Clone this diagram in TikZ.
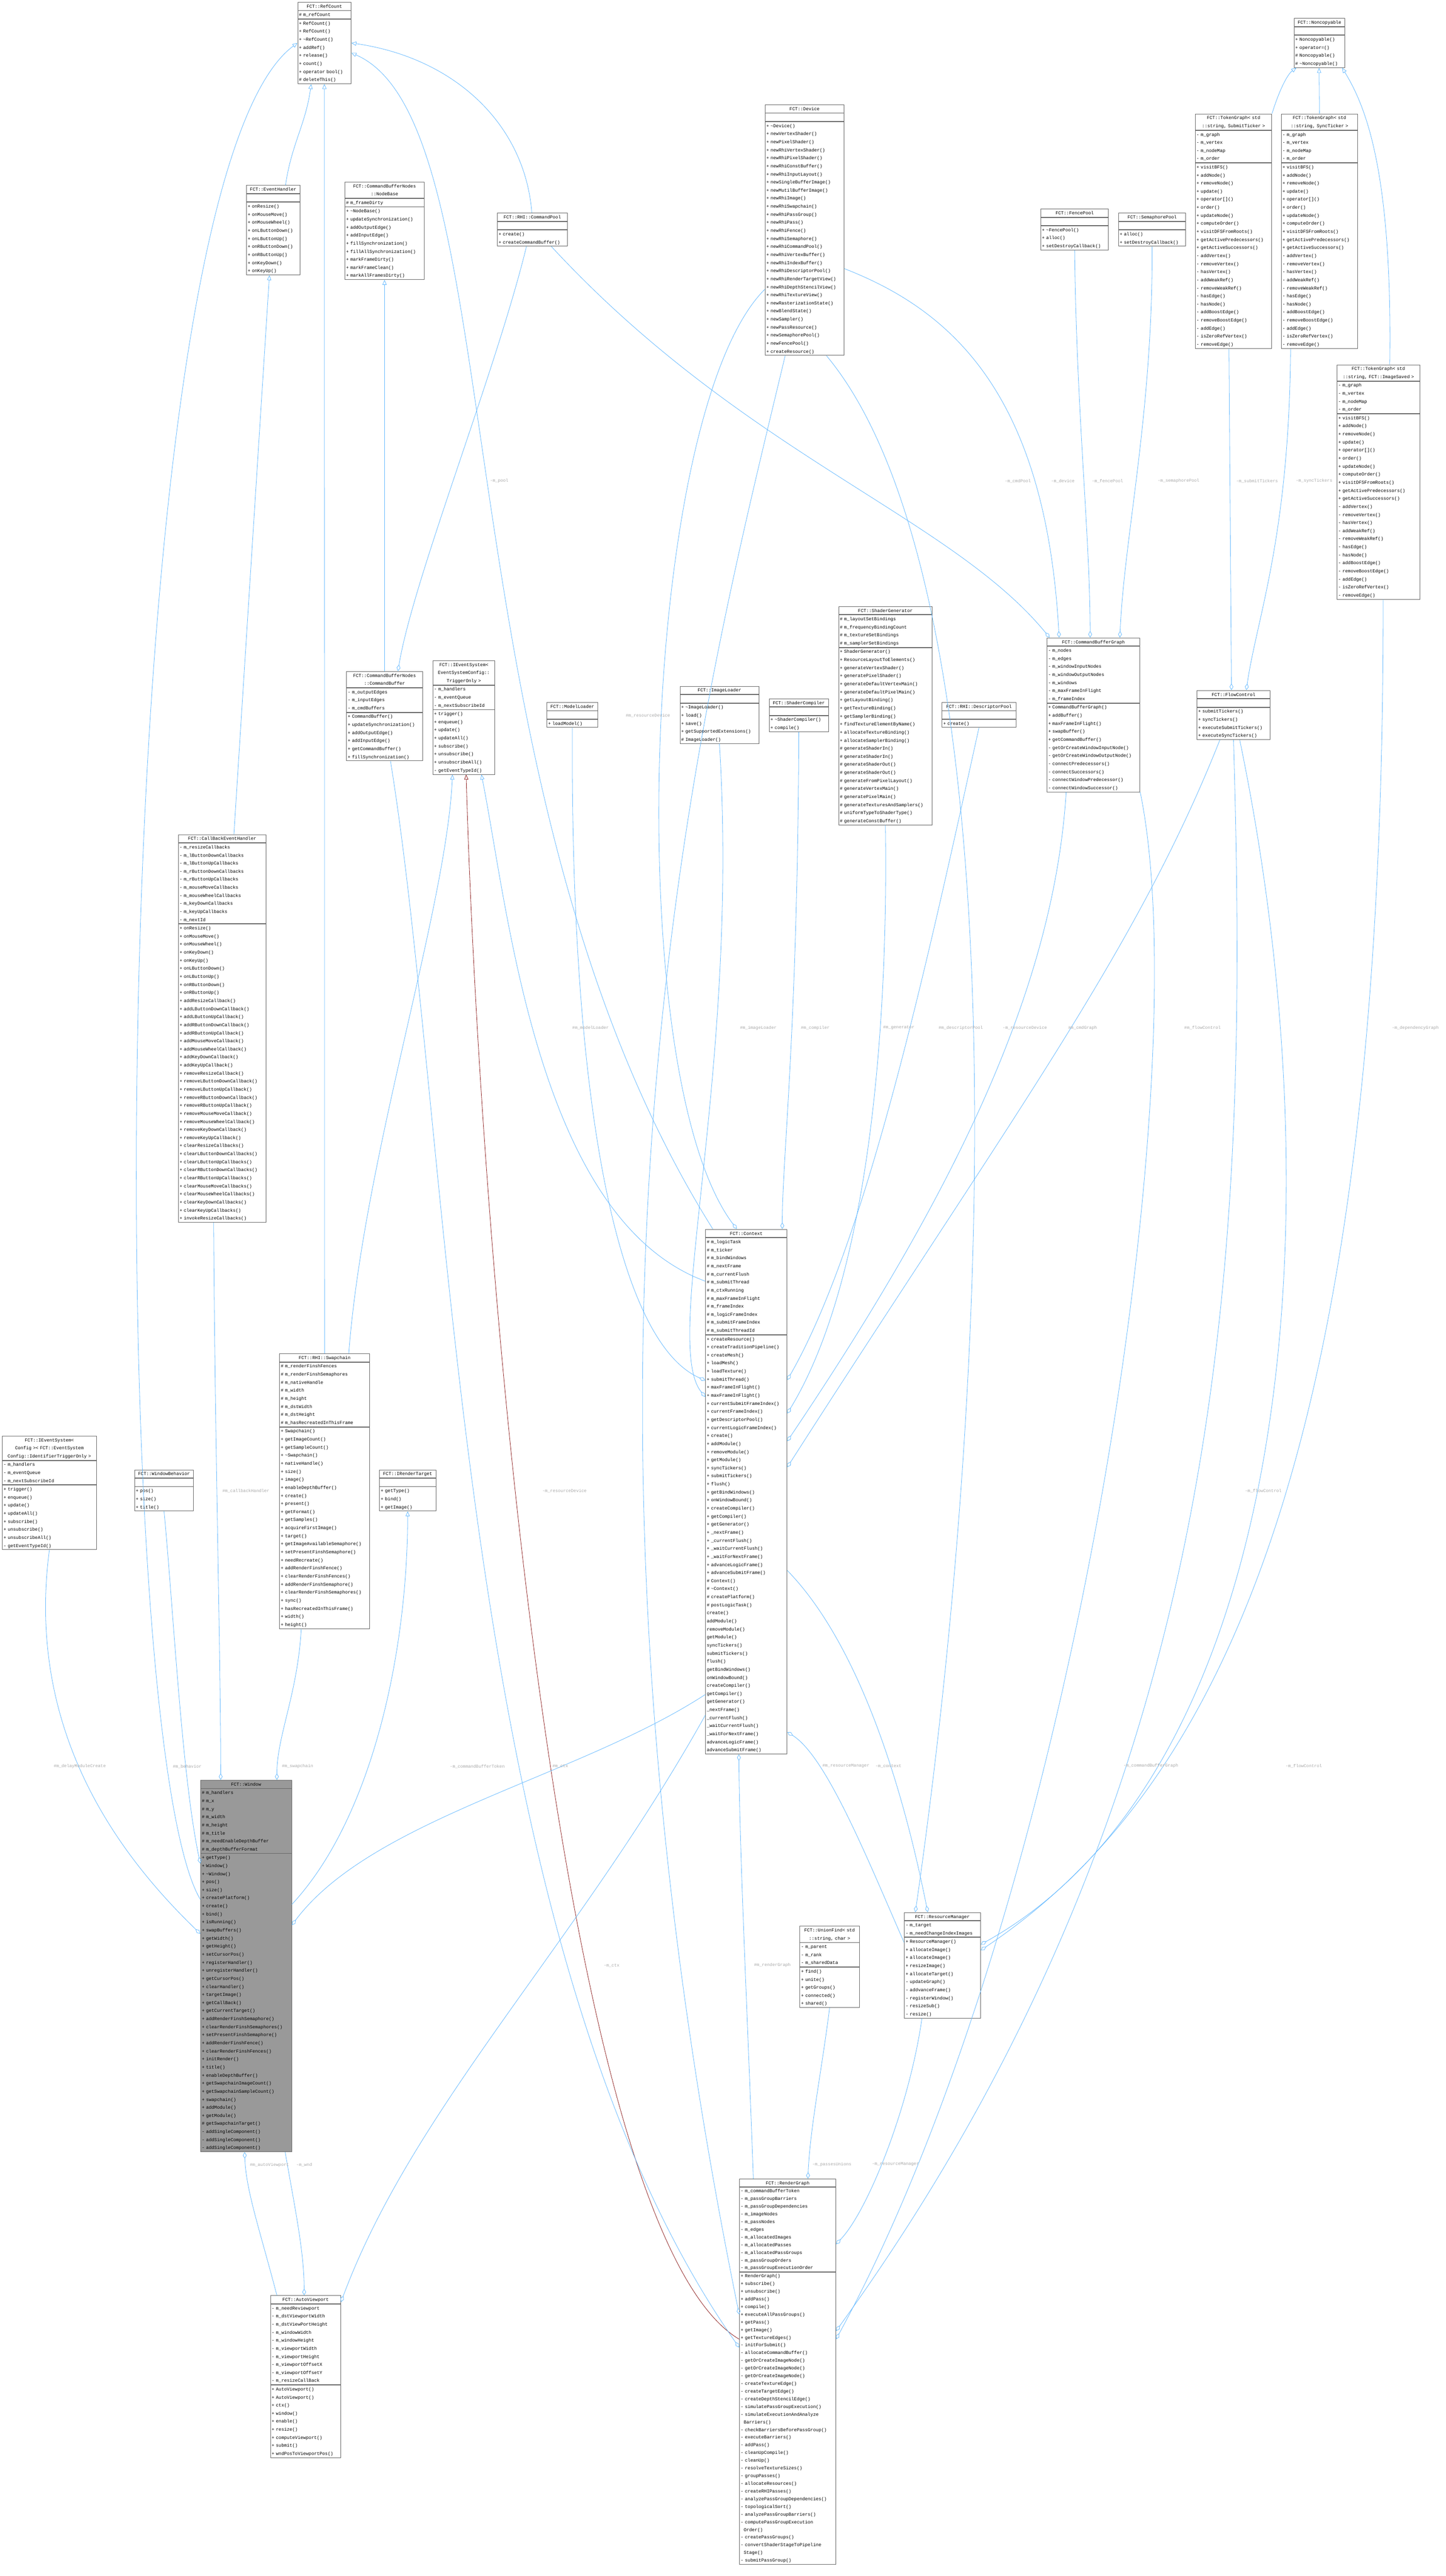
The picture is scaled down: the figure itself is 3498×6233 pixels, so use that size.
\documentclass[tikz,border=0pt]{standalone}
\usepackage{fontspec}
\setmonofont{Liberation Mono}
\usepackage{tikz}
\usetikzlibrary{arrows.meta, positioning, fit}

\definecolor{edgeblue}{HTML}{63B8FF}
\definecolor{inhred}{HTML}{8B1A1A}
\definecolor{lblgray}{HTML}{A8A8A8}
\definecolor{boxline}{HTML}{666666}
\definecolor{winfill}{HTML}{999999}

\catcode`\_=12
\newcommand\dt{\textasciitilde}
% one doxygen class box: [extra style]{name}{x,y}{width}{title}{attributes}{methods}
\newcommand\umlclass[7][fill=white]{%
  \pgfmathsetmacro\clsw{#4-6}%
  \node[umlpart, #1, align=center, text width=\clsw pt] (#2-t) at (#3) {#5};
  \node[umlpart, #1, text width=\clsw pt] (#2-a) at (#2-t.south west) {#6};
  \node[umlpart, #1, text width=\clsw pt] (#2-o) at (#2-a.south west) {#7};
  \node[fit=(#2-t)(#2-o), inner sep=0pt] (#2) {};
}
\newcommand\tgattrs{- m_graph\\- m_vertex\\- m_nodeMap\\- m_order}
\newcommand\tgmethods{+ visitBFS()\\+ addNode()\\+ removeNode()\\+ update()\\+ operator[]()\\+ order()\\+ updateNode()\\+ computeOrder()\\+ visitDFSFromRoots()\\+ getActivePredecessors()\\+ getActiveSuccessors()\\- addVertex()\\- removeVertex()\\- hasVertex()\\- addWeakRef()\\- removeWeakRef()\\- hasEdge()\\- hasNode()\\- addBoostEdge()\\- removeBoostEdge()\\- addEdge()\\- isZeroRefVertex()\\- removeEdge()}
\newcommand\evattrs{- m_handlers\\- m_eventQueue\\- m_nextSubscribeId}
\newcommand\evmethods{+ trigger()\\+ enqueue()\\+ update()\\+ updateAll()\\+ subscribe()\\+ unsubscribe()\\+ unsubscribeAll()\\- getEventTypeId()}

\begin{document}
\begin{tikzpicture}[x=1pt, y=-1pt,
    umlpart/.style={draw=boxline, fill=white, line width=1pt, anchor=north west, inner xsep=3pt, inner ysep=0pt,
      align=left, font=\ttfamily\fontsize{11}{19.5}\selectfont,
      execute at begin node=\strut, execute at end node=\strut},
    tight/.style={font=\ttfamily\fontsize{11}{18.6}\selectfont},
    lbl/.style={text=lblgray, font=\ttfamily\fontsize{10.5}{12}\selectfont},
    inh/.style={draw=edgeblue, line width=1pt, -{Triangle[open, length=12pt, width=10pt]}},
    inhr/.style={draw=inhred, line width=1pt, -{Triangle[open, length=12pt, width=10pt]}},
    agg/.style={draw=edgeblue, line width=1pt, -{Diamond[open, length=16pt, width=9pt]}}]
  \useasboundingbox (0,0) rectangle (3498,6233);

  % top row
  \umlclass{refc}{720,5}{129}{FCT::RefCount}{\# m_refCount}{+ RefCount()\\+ RefCount()\\+ \dt RefCount()\\+ addRef()\\+ release()\\+ count()\\+ operator bool()\\\# deleteThis()}
  \umlclass{evh}{596,448}{129}{FCT::EventHandler}{}{+ onResize()\\+ onMouseMove()\\+ onMouseWheel()\\+ onLButtonDown()\\+ onLButtonUp()\\+ onRButtonDown()\\+ onRButtonUp()\\+ onKeyDown()\\+ onKeyUp()}
  \umlclass{nodeb}{834,440}{192}{FCT::CommandBufferNodes\\::NodeBase}{\# m_frameDirty}{+ \dt NodeBase()\\+ updateSynchronization()\\+ addOutputEdge()\\+ addInputEdge()\\+ fillSynchronization()\\+ fillAllSynchronization()\\+ markFrameDirty()\\+ markFrameClean()\\+ markAllFramesDirty()}
  \umlclass{cpool}{1203,515}{169}{FCT::RHI::CommandPool}{}{+ create()\\+ createCommandBuffer()}
  \umlclass{dev}{1851,253}{191}{FCT::Device}{}{+ \dt Device()\\+ newVertexShader()\\+ newPixelShader()\\+ newRhiVertexShader()\\+ newRhiPixelShader()\\+ newRhiConstBuffer()\\+ newRhiInputLayout()\\+ newSingleBufferImage()\\+ newMutilBufferImage()\\+ newRhiImage()\\+ newRhiSwapchain()\\+ newRhiPassGroup()\\+ newRhiPass()\\+ newRhiFence()\\+ newRhiSemaphore()\\+ newRhiCommandPool()\\+ newRhiVertexBuffer()\\+ newRhiIndexBuffer()\\+ newRhiDescriptorPool()\\+ newRhiRenderTargetView()\\+ newRhiDepthStencilView()\\+ newRhiTextureView()\\+ newRasterizationState()\\+ newBlendState()\\+ newSampler()\\+ newPassResource()\\+ newSemaphorePool()\\+ newFencePool()\\+ createResource()}
  \umlclass{fpool}{2518,505}{164}{FCT::FencePool}{}{+ \dt FencePool()\\+ alloc()\\+ setDestroyCallback()}
  \umlclass{spool}{2706,515}{163}{FCT::SemaphorePool}{}{+ alloc()\\+ setDestroyCallback()}
  \umlclass{noncp}{3131,44}{123}{FCT::Noncopyable}{}{+ Noncopyable()\\+ operator=()\\\# Noncopyable()\\\# \dt Noncopyable()}
  \umlclass{tgsub}{2892,275}{185}{FCT::TokenGraph< std\\::string, SubmitTicker >}{\tgattrs}{\tgmethods}
  \umlclass{tgsync}{3100,275}{185}{FCT::TokenGraph< std\\::string, SyncTicker >}{\tgattrs}{\tgmethods}
  \umlclass{tgimg}{3235,882}{200}{FCT::TokenGraph< std\\::string, FCT::ImageSaved >}{\tgattrs}{\tgmethods}

  % second row
  \umlclass{cbuf}{838,1624}{184}{FCT::CommandBufferNodes\\::CommandBuffer}{- m_outputEdges\\- m_inputEdges\\- m_cmdBuffers}{+ CommandBuffer()\\+ updateSynchronization()\\+ addOutputEdge()\\+ addInputEdge()\\+ getCommandBuffer()\\+ fillSynchronization()}
  \umlclass{ievt}{1047,1598}{150}{FCT::IEventSystem<\\EventSystemConfig::\\TriggerOnly >}{\evattrs}{\evmethods}
  \umlclass{mload}{1323,1699}{123}{FCT::ModelLoader}{}{+ loadModel()}
  \umlclass{iload}{1645,1660}{191}{FCT::ImageLoader}{}{+ \dt ImageLoader()\\+ load()\\+ save()\\+ getSupportedExtensions()\\\# ImageLoader()}
  \umlclass{scomp}{1861,1690}{143}{FCT::ShaderCompiler}{}{+ \dt ShaderCompiler()\\+ compile()}
  \umlclass{sgen}{2029,1467}{226}{FCT::ShaderGenerator}{\# m_layoutSetBindings\\\# m_frequencyBindingCount\\\# m_textureSetBindings\\\# m_samplerSetBindings}{+ ShaderGenerator()\\+ ResourceLayoutToElements()\\+ generateVertexShader()\\+ generatePixelShader()\\+ generateDefaultVertexMain()\\+ generateDefaultPixelMain()\\+ getLayoutBinding()\\+ getTextureBinding()\\+ getSamplerBinding()\\+ findTextureElementByName()\\+ allocateTextureBinding()\\+ allocateSamplerBinding()\\\# generateShaderIn()\\\# generateShaderIn()\\\# generateShaderOut()\\\# generateShaderOut()\\\# generateFromPixelLayout()\\\# generateVertexMain()\\\# generatePixelMain()\\\# generateTexturesAndSamplers()\\\# uniformTypeToShaderType()\\\# generateConstBuffer()}
  \umlclass{dpool}{2279,1699}{179}{FCT::RHI::DescriptorPool}{}{+ create()}
  \umlclass{cbg}{2533,1543}{225}{FCT::CommandBufferGraph}{- m_nodes\\- m_edges\\- m_windowInputNodes\\- m_windowOutputNodes\\- m_windows\\- m_maxFrameInFlight\\- m_frameIndex}{+ CommandBufferGraph()\\+ addBuffer()\\+ maxFrameInFlight()\\+ swapBuffer()\\+ getCommandBuffer()\\- getOrCreateWindowInputNode()\\- getOrCreateWindowOutputNode()\\- connectPredecessors()\\- connectSuccessors()\\- connectWindowPredecessor()\\- connectWindowSuccessor()}
  \umlclass{fc}{2896,1670}{177}{FCT::FlowControl}{}{+ submitTickers()\\+ syncTickers()\\+ executeSubmitTickers()\\+ executeSyncTickers()}

  % middle
  \umlclass{cbh}{431,2019}{212}{FCT::CallBackEventHandler}{- m_resizeCallbacks\\- m_lButtonDownCallbacks\\- m_lButtonUpCallbacks\\- m_rButtonDownCallbacks\\- m_rButtonUpCallbacks\\- m_mouseMoveCallbacks\\- m_mouseWheelCallbacks\\- m_keyDownCallbacks\\- m_keyUpCallbacks\\- m_nextId}{+ onResize()\\+ onMouseMove()\\+ onMouseWheel()\\+ onKeyDown()\\+ onKeyUp()\\+ onLButtonDown()\\+ onLButtonUp()\\+ onRButtonDown()\\+ onRButtonUp()\\+ addResizeCallback()\\+ addLButtonDownCallback()\\+ addLButtonUpCallback()\\+ addRButtonDownCallback()\\+ addRButtonUpCallback()\\+ addMouseMoveCallback()\\+ addMouseWheelCallback()\\+ addKeyDownCallback()\\+ addKeyUpCallback()\\+ removeResizeCallback()\\+ removeLButtonDownCallback()\\+ removeLButtonUpCallback()\\+ removeRButtonDownCallback()\\+ removeRButtonUpCallback()\\+ removeMouseMoveCallback()\\+ removeMouseWheelCallback()\\+ removeKeyDownCallback()\\+ removeKeyUpCallback()\\+ clearResizeCallbacks()\\+ clearLButtonDownCallbacks()\\+ clearLButtonUpCallbacks()\\+ clearRButtonDownCallbacks()\\+ clearRButtonUpCallbacks()\\+ clearMouseMoveCallbacks()\\+ clearMouseWheelCallbacks()\\+ clearKeyDownCallbacks()\\+ clearKeyUpCallbacks()\\+ invokeResizeCallbacks()}
  \umlclass{ievi}{5,3474}{228}{FCT::IEventSystem<\\ Config >< FCT::EventSystem\\Config::IdentifierTriggerOnly >}{\evattrs}{\evmethods}
  \umlclass{wbeh}{325,3556}{143}{FCT::WindowBehavior}{}{+ pos()\\+ size()\\+ title()}
  \umlclass{swap}{676,3275}{218}{FCT::RHI::Swapchain}{\# m_renderFinshFences\\\# m_renderFinshSemaphores\\\# m_nativeHandle\\\# m_width\\\# m_height\\\# m_dstWidth\\\# m_dstHeight\\\# m_hasRecreatedInThisFrame}{+ Swapchain()\\+ getImageCount()\\+ getSampleCount()\\+ \dt Swapchain()\\+ nativeHandle()\\+ size()\\+ image()\\+ enableDepthBuffer()\\+ create()\\+ present()\\+ getFormat()\\+ getSamples()\\+ acquireFirstImage()\\+ target()\\+ getImageAvailableSemaphore()\\+ setPresentFinshSemaphore()\\+ needRecreate()\\+ addRenderFinshFence()\\+ clearRenderFinshFences()\\+ addRenderFinshSemaphore()\\+ clearRenderFinshSemaphores()\\+ sync()\\+ hasRecreatedInThisFrame()\\+ width()\\+ height()}
  \umlclass{irt}{918,3556}{136}{FCT::IRenderTarget}{}{+ getType()\\+ bind()\\+ getImage()}
  \umlclass{ctx}{1707,2974}{197}{FCT::Context}{\# m_logicTask\\\# m_ticker\\\# m_bindWindows\\\# m_nextFrame\\\# m_currentFlush\\\# m_submitThread\\\# m_ctxRunning\\\# m_maxFrameInFlight\\\# m_frameIndex\\\# m_logicFrameIndex\\\# m_submitFrameIndex\\\# m_submitThreadId}{+ createResource()\\+ createTraditionPipeline()\\+ createMesh()\\+ loadMesh()\\+ loadTexture()\\+ submitThread()\\+ maxFrameInFlight()\\+ maxFrameInFlight()\\+ currentSubmitFrameIndex()\\+ currentFrameIndex()\\+ getDescriptorPool()\\+ currentLogicFrameIndex()\\+ create()\\+ addModule()\\+ removeModule()\\+ getModule()\\+ syncTickers()\\+ submitTickers()\\+ flush()\\+ getBindWindows()\\+ onWindowBound()\\+ createCompiler()\\+ getCompiler()\\+ getGenerator()\\+ _nextFrame()\\+ _currentFlush()\\+ _waitCurrentFlush()\\+ _waitForNextFrame()\\+ advanceLogicFrame()\\+ advanceSubmitFrame()\\\# Context()\\\# \dt Context()\\\# createPlatform()\\\# postLogicTask()\\* create()\\* addModule()\\* removeModule()\\* getModule()\\* syncTickers()\\* submitTickers()\\* flush()\\* getBindWindows()\\* onWindowBound()\\* createCompiler()\\* getCompiler()\\* getGenerator()\\* _nextFrame()\\* _currentFlush()\\* _waitCurrentFlush()\\* _waitForNextFrame()\\* advanceLogicFrame()\\* advanceSubmitFrame()}

  % bottom
  \umlclass[fill=winfill]{win}{485,4307}{220}{FCT::Window}{\# m_handlers\\\# m_x\\\# m_y\\\# m_width\\\# m_height\\\# m_title\\\# m_needEnableDepthBuffer\\\# m_depthBufferFormat}{+ getType()\\+ Window()\\+ \dt Window()\\+ pos()\\+ size()\\+ createPlatform()\\+ create()\\+ bind()\\+ isRunning()\\+ swapBuffers()\\+ getWidth()\\+ getHeight()\\+ setCursorPos()\\+ registerHandler()\\+ unregisterHandler()\\+ getCursorPos()\\+ clearHandler()\\+ targetImage()\\+ getCallBack()\\+ getCurrentTarget()\\+ addRenderFinshSemaphore()\\+ clearRenderFinshSemaphores()\\+ setPresentFinshSemaphore()\\+ addRenderFinshFence()\\+ clearRenderFinshFences()\\+ initRender()\\+ title()\\+ enableDepthBuffer()\\+ getSwapchainImageCount()\\+ getSwapchainSampleCount()\\+ swapchain()\\+ addModule()\\+ getModule()\\\# getSwapchainTarget()\\- addSingleComponent()\\- addSingleComponent()\\- addSingleComponent()}
  \umlclass{av}{654,5554}{170}{FCT::AutoViewport}{- m_needReviewport\\- m_dstViewportWidth\\- m_dstViewPortHeight\\- m_windowWidth\\- m_windowHeight\\- m_viewportWidth\\- m_viewportHeight\\- m_viewportOffsetX\\- m_viewportOffsetY\\- m_resizeCallBack}{+ AutoViewport()\\+ AutoViewport()\\+ ctx()\\+ window()\\+ enable()\\+ resize()\\+ computeViewport()\\+ submit()\\+ wndPosToViewportPos()}
  \umlclass{uf}{1935,4660}{144}{FCT::UnionFind< std\\::string, char >}{- m_parent\\- m_rank\\- m_sharedData}{+ find()\\+ unite()\\+ getGroups()\\+ connected()\\+ shared()}
  \umlclass{rm}{2188,4627}{184}{FCT::ResourceManager}{- m_target\\- m_needChangeIndexImages}{+ ResourceManager()\\+ allocateImage()\\+ allocateImage()\\+ resizeImage()\\+ allocateTarget()\\- updateGraph()\\- addvanceFrame()\\- registerWindow()\\- resizeSub()\\- resize()}
  \umlclass[tight]{rg}{1789,5272}{233}{FCT::RenderGraph}{- m_commandBufferToken\\- m_passGroupBarriers\\- m_passGroupDependencies\\- m_imageNodes\\- m_passNodes\\- m_edges\\- m_allocatedImages\\- m_allocatedPasses\\- m_allocatedPassGroups\\- m_passGroupOrders\\- m_passGroupExecutionOrder}{+ RenderGraph()\\+ subscribe()\\+ unsubscribe()\\+ addPass()\\+ compile()\\+ executeAllPassGroups()\\+ getPass()\\+ getImage()\\+ getTextureEdges()\\- initForSubmit()\\- allocateCommandBuffer()\\- getOrCreateImageNode()\\- getOrCreateImageNode()\\- getOrCreateImageNode()\\- createTextureEdge()\\- createTargetEdge()\\- createDepthStencilEdge()\\- simulatePassGroupExecution()\\- simulateExecutionAndAnalyze\\\ \ Barriers()\\- checkBarriersBeforePassGroup()\\- executeBarriers()\\- addPass()\\- cleanUpCompile()\\- cleanUp()\\- resolveTextureSizes()\\- groupPasses()\\- allocateResources()\\- createRHIPasses()\\- analyzePassGroupDependencies()\\- topologicalSort()\\- analyzePassGroupBarriers()\\- computePassGroupExecution\\\ \ Order()\\- createPassGroups()\\- convertShaderStageToPipeline\\\ \ Stage()\\- submitPassGroup()}

  % inheritance
  \draw[inh] (evh.north -| 691,0) .. controls (705,350) and (740,300) .. (refc.south -| 753,0);
  \draw[inh] (swap.north) -- (refc.south);
  \draw[inh] (cbh.north -| 566,0) -- (evh.south -| 652,0);
  \draw[inh] (win.west |- 0,4596) .. controls (250,4200) and (250,450) .. (refc.west);
  \draw[inh] (cpool.north -| 1287,0) .. controls (1270,300) and (1100,140) .. (refc.east);
  \draw[inh] (ctx.north -| 1725,0) .. controls (1050,1900) and (1250,300) .. ([yshift=-24pt]refc.east);
  \draw[inh] (cbuf.north) -- (nodeb.south);
  \draw[inh] (swap.north -| 844,0) .. controls (880,2800) and (1080,2200) .. (ievt.south -| 1095,0);
  \draw[inhr] (rg.west |- 0,5660) .. controls (1350,5400) and (1160,3000) .. (ievt.south -| 1128,0);
  \draw[inh] (ctx.west |- 0,3100) .. controls (1300,2950) and (1230,2200) .. (ievt.south -| 1165,0);
  \draw[inh] (win.east |- 0,4608) .. controls (900,4400) and (986,4000) .. (irt.south);
  \draw[inh] (tgsub.north east) .. controls (3095,220) and (3115,180) .. (noncp.south -| 3137,0);
  \draw[inh] (tgsync.north) -- (noncp.south -| 3192,0);
  \draw[inh] (tgimg.north -| 3363,0) .. controls (3370,400) and (3300,250) .. (noncp.south -| 3248,0);

  % aggregation
  \draw[agg] (cpool.south -| 1274,0) .. controls (1200,900) and (1000,1400) .. (cbuf.north -| 963,0);
  \draw[agg] (cpool.south -| 1334,0) .. controls (1800,1100) and (2300,1250) .. (cbg.north -| 2540,0);
  \draw[agg] (dev.east |- 0,650) .. controls (2300,750) and (2530,950) .. (cbg.north -| 2563,0);
  \draw[agg] (fpool.south) .. controls (2605,1000) and (2638,1300) .. (cbg.north -| 2638,0);
  \draw[agg] (spool.south) .. controls (2790,1000) and (2720,1300) .. (cbg.north -| 2710,0);
  \draw[agg] (tgsub.south -| 2974,0) -- (fc.north -| 2980,0);
  \draw[agg] (tgsync.south -| 3123,0) .. controls (3120,1300) and (3040,1500) .. (fc.north -| 3016,0);
  \draw[agg] (tgimg.south -| 3347,0) .. controls (3350,3400) and (3000,4300) .. (rm.east |- 0,4719);
  \draw[agg] (fc.south -| 3000,0) .. controls (3250,3000) and (3100,4300) .. (rm.east |- 0,4705);
  \draw[agg] (fc.south -| 2985,0) .. controls (3020,3000) and (2990,4300) .. (rg.east |- 0,5640);
  \draw[agg] (fc.south -| 2952,0) .. controls (2750,2300) and (2450,2700) .. (ctx.east |- 0,3550);
  \draw[agg] (cbg.south -| 2580,0) .. controls (2550,2400) and (2300,2900) .. (ctx.east |- 0,3487);
  \draw[agg] (cbg.south east) .. controls (2900,2600) and (2600,4600) .. (rg.east |- 0,5660);
  \draw[agg] (dpool.south) .. controls (2250,2300) and (2100,3000) .. (ctx.east |- 0,3339);
  \draw[agg] (sgen.south) .. controls (2150,2500) and (2100,3100) .. (ctx.east |- 0,3420);
  \draw[agg] (dev.south -| 2000,0) .. controls (2450,1400) and (2420,3200) .. (rm.north -| 2215,0);
  \draw[agg] (dev.west |- 0,700) .. controls (1550,1000) and (1500,2600) .. (ctx.north -| 1783,0);
  \draw[agg] (dev.south -| 1900,0) .. controls (1700,1700) and (1300,3200) .. (rg.west |- 0,5600);
  \draw[agg] (mload.south) .. controls (1380,2700) and (1500,3250) .. (ctx.west |- 0,3340);
  \draw[agg] (iload.south) .. controls (1790,2600) and (1600,3250) .. (ctx.west |- 0,3380);
  \draw[agg] (scomp.south) .. controls (1930,2500) and (1893,2800) .. (ctx.north -| 1893,0);
  \draw[agg] (rm.west |- 0,4700) .. controls (2100,4500) and (2000,4250) .. (ctx.east |- 0,4191);
  \draw[agg] (ctx.east |- 0,3800) .. controls (2100,4000) and (2200,4400) .. (rm.north -| 2245,0);
  \draw[agg] (rg.north -| 1823,0) .. controls (1810,4900) and (1790,4500) .. (ctx.south -| 1788,0);
  \draw[agg] (uf.south) .. controls (1990,5000) and (1960,5150) .. (rg.north -| 1955,0);
  \draw[agg] (rm.south -| 2231,0) .. controls (2200,5100) and (2100,5350) .. (rg.east |- 0,5430);
  \draw[agg] (ctx.west |- 0,4100) .. controls (1400,4300) and (900,4400) .. (win.east |- 0,4658);
  \draw[agg] (ctx.west |- 0,4150) .. controls (1400,4700) and (1000,5100) .. (av.east |- 0,5570);
  \draw[agg] (win.south -| 690,0) .. controls (715,5350) and (736,5450) .. (av.north -| 736,0);
  \draw[agg] (av.north -| 670,0) .. controls (630,5400) and (595,5300) .. (win.south -| 592,0);
  \draw[agg] (wbeh.south) .. controls (420,3900) and (440,4300) .. (win.west |- 0,4509);
  \draw[agg] (ievi.south) .. controls (60,4200) and (300,4500) .. (win.west |- 0,4679);
  \draw[agg] (cbh.south -| 517,0) .. controls (520,3500) and (534,4000) .. (win.north -| 534,0);
  \draw[agg] (swap.south -| 729,0) .. controls (720,4100) and (670,4200) .. (win.north -| 670,0);
  \draw[agg] (cbuf.south -| 945,0) .. controls (1100,2800) and (1100,4700) .. (rg.west |- 0,5680);

  % edge labels
  \node[lbl] (l-pool) at (1208,1164) {-m_pool};
  \node[lbl] (l-cmdpool) at (2463,1164) {-m_cmdPool};
  \node[lbl] (l-device) at (2572,1164) {-m_device};
  \node[lbl] (l-fence) at (2680,1164) {-m_fencePool};
  \node[lbl] (l-sema) at (2852,1164) {-m_semaphorePool};
  \node[lbl] (l-submit) at (3042,1164) {-m_submitTickers};
  \node[lbl] (l-sync) at (3180,1164) {-m_syncTickers};
  \node[lbl] (l-resdev1) at (1568,1732) {\#m_resourceDevice};
  \node[lbl] (l-model) at (1429,2487) {\#m_modelLoader};
  \node[lbl] (l-image) at (1835,2487) {\#m_imageLoader};
  \node[lbl] (l-comp) at (1973,2487) {\#m_compiler};
  \node[lbl] (l-gen) at (2175,2487) {\#m_generator};
  \node[lbl] (l-dpool) at (2325,2487) {\#m_descriptorPool};
  \node[lbl] (l-resdev2) at (2480,2487) {-m_resourceDevice};
  \node[lbl] (l-cmdgraph) at (2620,2487) {\#m_cmdGraph};
  \node[lbl] (l-flow1) at (2910,2487) {\#m_flowControl};
  \node[lbl] (l-dep) at (3425,2487) {-m_dependencyGraph};
  \node[lbl] (l-cbh) at (595,3608) {\#m_callbackHandler};
  \node[lbl] (l-resdev3) at (1366,3607) {-m_resourceDevice};
  \node[lbl] (l-flow2) at (3057,3607) {-m_flowControl};
  \node[lbl] (l-delay) at (193,4274) {\#m_delayModuleCreate};
  \node[lbl] (l-beh) at (453,4274) {\#m_behavior};
  \node[lbl] (l-swap) at (720,4274) {\#m_swapchain};
  \node[lbl] (l-token) at (1155,4274) {-m_commandBufferToken};
  \node[lbl] (l-ctx1) at (1356,4274) {\#m_ctx};
  \node[lbl] (l-resmgr) at (2047,4273) {\#m_resourceManager};
  \node[lbl] (l-context) at (2150,4273) {-m_context};
  \node[lbl] (l-cbgraph) at (2785,4273) {-m_commandBufferGraph};
  \node[lbl] (l-flow3) at (3155,4273) {-m_flowControl};
  \node[lbl] (l-ctx2) at (1480,4756) {-m_ctx};
  \node[lbl] (l-rgraph) at (1869,4755) {\#m_renderGraph};
  \node[lbl] (l-union) at (2013,5237) {-m_passesUnions};
  \node[lbl] (l-rmgr) at (2167,5237) {-m_resourceManager};
  \node[lbl] (l-autovp) at (652,5238) {\#m_autoViewport};
  \node[lbl] (l-wnd) at (736,5238) {-m_wnd};
\end{tikzpicture}
\end{document}
